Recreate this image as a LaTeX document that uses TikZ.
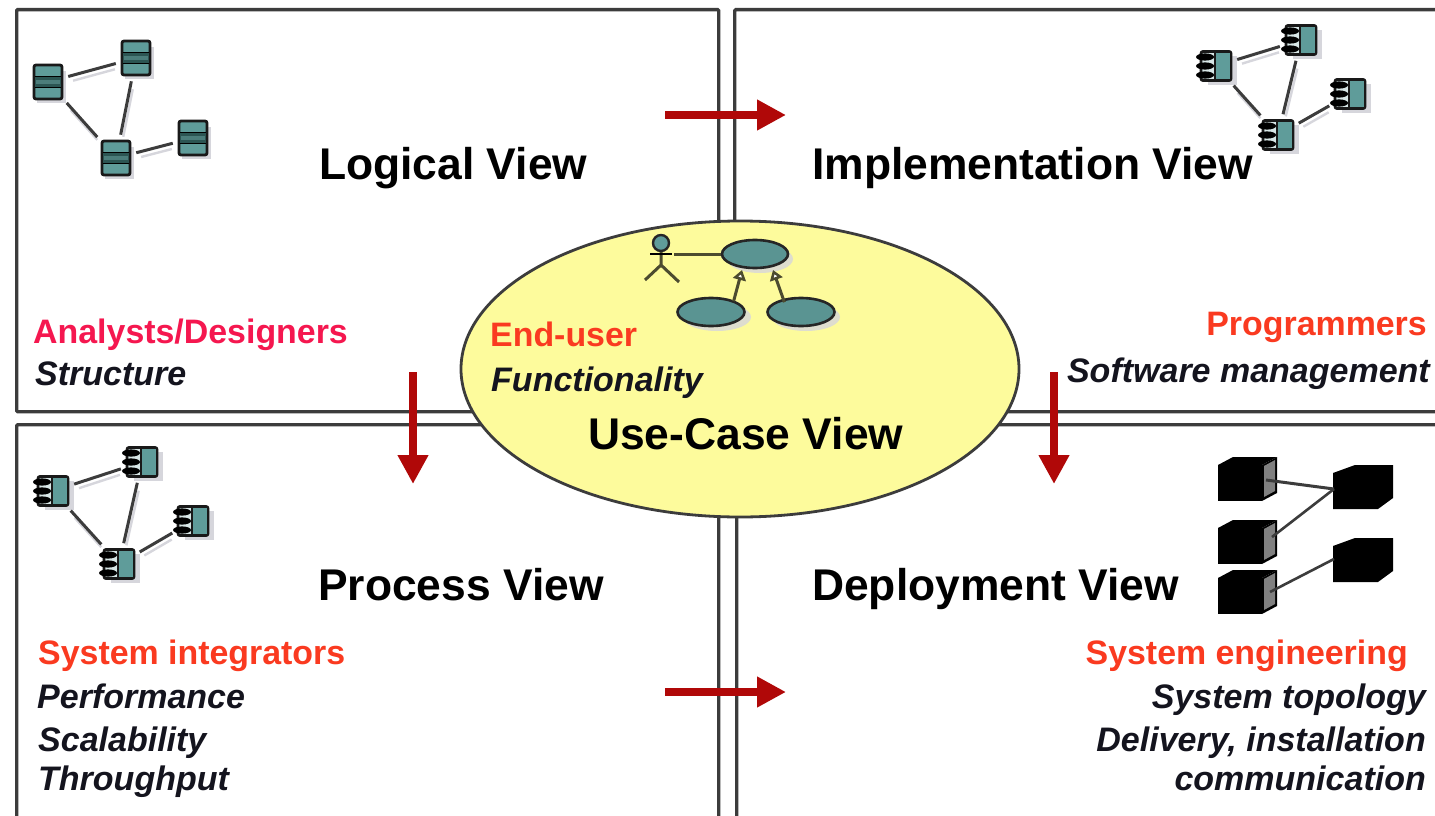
\documentclass[tikz,border=0pt]{standalone}
\usepackage{fontspec}
\setmainfont{Liberation Sans}
\usetikzlibrary{shapes.geometric,arrows.meta}
\definecolor{teal1}{HTML}{5F9C9A}
\definecolor{tealdk}{HTML}{2C5553}
\definecolor{framec}{HTML}{3C3C3C}
\definecolor{ellfill}{HTML}{FDFB9C}
\definecolor{arrowred}{HTML}{B00808}
\definecolor{pinkred}{HTML}{F5174F}
\definecolor{orred}{HTML}{FA3A20}
\definecolor{inkc}{HTML}{14141E}
\definecolor{shadowc}{HTML}{D6D6DC}
\tikzset{
  viewbox/.style={draw=framec,line width=3.4pt,fill=white,rectangle,inner sep=0pt,rounded corners=1pt},
  flowarrow/.style={draw=arrowred,line width=7.5pt,-{Triangle[length=29pt,width=29pt]}},
  title/.style={font=\bfseries\fontsize{44.4}{46}\selectfont,text=black,anchor=base west,inner sep=0pt},
  rolea/.style={font=\bfseries\fontsize{33.9}{36}\selectfont,anchor=base west,inner sep=0pt},
  roleb/.style={rolea,anchor=base east},
  conc/.style={font=\bfseries\itshape\fontsize{34}{36}\selectfont,text=inkc,anchor=base west,inner sep=0pt},
  concr/.style={conc,anchor=base east},
  linkline/.style={draw=framec,line width=3pt,shorten >=5pt,shorten <=5pt},
  linkshadow/.style={draw=shadowc,line width=2.4pt,shorten >=8pt,shorten <=8pt,transform canvas={shift={(2pt,-5pt)}}},
  iconbody/.style={rectangle,draw=black!90,line width=2.8pt,fill=teal1,inner sep=0pt,rounded corners=2pt},
  uc/.style={ellipse,draw=black!85,line width=2.6pt,fill=teal1!95!black,inner sep=0pt},
  ucline/.style={draw=black!70!ellfill,line width=3pt},
  cube/.style={rectangle,fill=black,inner sep=0pt},
}
\newcommand{\dbicon}[3]{%
  \fill[shadowc] (#2-11,#3-11) rectangle (#2+18,#3+21);
  \node[iconbody,minimum width=28pt,minimum height=34pt] (#1) at (#2,#3) {};
  \fill[tealdk] (#2-13,#3-6) rectangle (#2+13,#3+6);
  \fill[teal1!80!black] (#2-12,#3-2) rectangle (#2+12,#3+2);
  \draw[black,line width=1.8pt] (#2-13,#3-5.5) -- (#2+13,#3-5.5) (#2-13,#3+5.5) -- (#2+13,#3+5.5);
}
\newcommand{\compicon}[3]{%
  \fill[shadowc] (#2-8,#3-10) rectangle (#2+21,#3+19);
  \node[iconbody,minimum width=30pt,minimum height=29pt,fill=teal1!25] (#1) at (#2,#3) {};
  \fill[teal1] (#2-1,#3-13) rectangle (#2+14,#3+13);
  \draw[black!90,line width=2pt] (#2-1,#3-13) -- (#2-1,#3+13);
  \foreach \dy in {-9,0,9}{\fill[black] (#2-11,#3+\dy) ellipse (9pt and 3.6pt);}
}
\newcommand{\cubeicon}[3]{%
  \node[cube,minimum width=44pt,minimum height=36pt,anchor=north west] (#1) at (#2,#3) {};
  \fill[black] (#2,#3) -- (#2+15,#3-8) -- (#2+59,#3-8) -- (#2+44,#3) -- cycle;
  \fill[black] (#2+44,#3) -- (#2+59,#3-8) -- (#2+59,#3+28) -- (#2+44,#3+36) -- cycle;
  \fill[gray] (#2+46,#3+1) -- (#2+57,#3-5) -- (#2+57,#3+26) -- (#2+46,#3+32) -- cycle;
}
\newcommand{\solidcube}[3]{%
  \node[cube,minimum width=45pt,minimum height=36pt,anchor=north west] (#1) at (#2,#3+8) {};
  \fill[black] (#2,#3+8) -- (#2+22,#3) -- (#2+60,#3) -- (#2+60,#3+33) -- (#2+45,#3+44) -- (#2,#3+44) -- cycle;
}
\newcommand{\linkit}[2]{%
  \draw[linkshadow] (#1) -- (#2);
  \draw[linkline] (#1) -- (#2);
}
\begin{document}
\begin{tikzpicture}[x=1pt,y=-1pt]
\useasboundingbox (0,0) rectangle (1435,816);
\fill[white] (0,0) rectangle (1435,816);
\clip (0,0) rectangle (1435,816);

\node[viewbox,minimum width=702pt,minimum height=402pt,anchor=north west] (logical) at (15,8) {};
\node[viewbox,minimum width=720pt,minimum height=402pt,anchor=north west] (impl) at (733,8) {};
\node[viewbox,minimum width=702pt,minimum height=410pt,anchor=north west] (process) at (15,423) {};
\node[viewbox,minimum width=720pt,minimum height=410pt,anchor=north west] (deploy) at (735,423) {};

\dbicon{la}{48}{82}
\dbicon{lb}{136}{58}
\dbicon{lc}{116}{158}
\dbicon{ld}{193}{138}
\linkit{la}{lb}
\linkit{lb}{lc}
\linkit{la}{lc}
\linkit{lc}{ld}

\compicon{ia}{1216}{66}
\compicon{ib}{1301}{40}
\compicon{ic}{1278}{135}
\compicon{id}{1350}{94}
\linkit{ia}{ib}
\linkit{ib}{ic}
\linkit{ia}{ic}
\linkit{ic}{id}

\compicon{pa}{53}{491}
\compicon{pb}{142}{462}
\compicon{pc}{119}{564}
\compicon{pd}{193}{521}
\linkit{pa}{pb}
\linkit{pb}{pc}
\linkit{pa}{pc}
\linkit{pc}{pd}

\cubeicon{da}{1218}{465}
\cubeicon{db}{1218}{528}
\cubeicon{dc}{1218}{578}
\solidcube{de}{1333}{465}
\solidcube{df}{1333}{538}
\coordinate (dax) at (1266,480);
\coordinate (dbx) at (1272,537);
\coordinate (dcx) at (1270,592);
\coordinate (dex) at (1334,489);
\coordinate (dfx) at (1334,559);
\draw[framec,line width=3pt] (dax) -- (dex);
\draw[framec,line width=2.6pt] (dbx) -- (dex);
\draw[framec,line width=2.6pt] (dcx) -- (dfx);

\node[ellipse,draw=framec,line width=2.8pt,fill=ellfill,inner sep=0pt,minimum width=558pt,minimum height=296pt] (usecase) at (740,369) {};

\fill[shadowc!80!ellfill] (760,259) ellipse (33pt and 14pt);
\fill[shadowc!80!ellfill] (717,317) ellipse (34pt and 14pt);
\fill[shadowc!80!ellfill] (806,317) ellipse (34pt and 14pt);
\node[uc,minimum width=66pt,minimum height=28pt] (uca) at (755,254) {};
\node[uc,minimum width=67pt,minimum height=28pt] (ucb) at (711,312) {};
\node[uc,minimum width=67pt,minimum height=28pt] (ucc) at (801,312) {};
\node[circle,draw=black!85,line width=2.4pt,fill=teal1,inner sep=0pt,minimum size=16pt] (actor) at (661,243) {};
\coordinate (hip) at (661,265);
\coordinate (footl) at (645,280);
\coordinate (footr) at (679,282);
\draw[ucline] (actor) -- (hip) -- (footl) (hip) -- (footr);
\draw[draw=black,line width=2.6pt] (650,254) -- (672,254);
\draw[ucline] (674,254) -- (uca);
\coordinate (ucat) at (742,270);
\coordinate (ucct) at (773,270);
\draw[ucline,-{Triangle[open,fill=white,length=10pt,width=13pt]}] (ucb.north east) ++(-2,0) -- (ucat);
\draw[ucline,-{Triangle[open,fill=white,length=10pt,width=13pt]}] (ucc.north west) ++(8,1) -- (ucct);

\coordinate (h1a) at (665,115); \coordinate (h1b) at (786,115);
\coordinate (h2a) at (665,692); \coordinate (h2b) at (786,692);
\coordinate (v1a) at (413,372); \coordinate (v1b) at (413,484);
\coordinate (v2a) at (1054,372); \coordinate (v2b) at (1054,484);
\draw[flowarrow] (h1a) -- (h1b);
\draw[flowarrow] (h2a) -- (h2b);
\draw[flowarrow] (v1a) -- (v1b);
\draw[flowarrow] (v2a) -- (v2b);

\node[title] (tl) at (319,179) {Logical View};
\node[title] (ti) at (812,179) {Implementation View};
\node[title] (tp) at (318,600) {Process View};
\node[title] (td) at (812,600) {Deployment View};
\node[title] (tu) at (588,449) {Use-Case View};

\node[rolea,text=pinkred] (r1) at (33,343) {Analysts/Designers};
\node[conc] (c1) at (35,385) {Structure};
\node[roleb,text=orred] (r2) at (1427,335) {Programmers};
\node[concr] (c2) at (1430,382) {Software management};
\node[rolea,text=orred] (r3) at (490,346) {End-user};
\node[conc] (c3) at (491,391) {Functionality};
\node[rolea,text=orred] (r4) at (38,664) {System integrators};
\node[conc] (c4a) at (37,708) {Performance};
\node[conc] (c4b) at (38,751) {Scalability};
\node[conc] (c4c) at (38,790) {Throughput};
\node[roleb,text=orred] (r5) at (1408,664) {System engineering};
\node[concr] (c5a) at (1426,708) {System topology};
\node[concr] (c5b) at (1426,751) {Delivery, installation};
\node[concr] (c5c) at (1426,790) {communication};
\end{tikzpicture}
\end{document}
